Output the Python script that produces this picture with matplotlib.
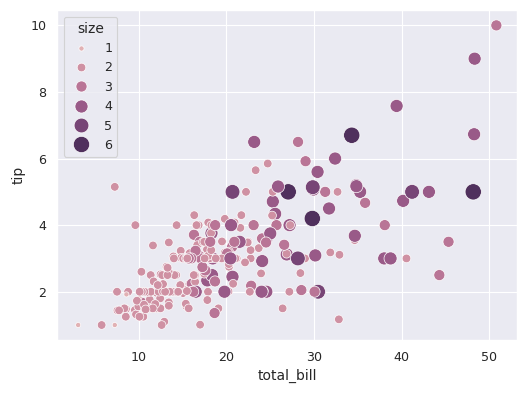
import matplotlib
matplotlib.use("Agg")
import matplotlib.pyplot as plt
import seaborn as sns
import pandas as pd

total_bill = [16.99,10.34,21.01,23.68,24.59,25.29,8.77,26.88,15.04,14.78,10.27,35.26,15.42,18.43,14.83,21.58,10.33,16.29,16.97,20.65,
17.92,20.29,15.77,39.42,19.82,17.81,13.37,12.69,21.70,19.65,9.55,18.35,15.06,20.69,17.78,24.06,16.31,16.93,18.69,31.27,
16.04,17.46,13.94,9.68,30.40,18.29,22.23,32.40,28.55,18.04,12.54,10.29,34.81,9.94,25.56,19.49,38.01,26.41,11.24,48.27,
20.29,13.81,11.02,18.29,17.59,20.08,16.45,3.07,20.23,15.01,12.02,17.07,26.86,25.28,14.73,10.51,17.92,27.20,22.76,17.29,
19.44,16.66,10.07,32.68,15.98,34.83,13.03,18.28,24.71,21.16,28.97,22.49,5.75,16.32,22.75,40.17,27.28,12.03,21.01,12.46,
11.35,15.38,44.30,22.42,20.92,15.36,20.49,25.21,18.24,14.31,14.00,7.25,38.07,23.95,25.71,17.31,29.93,10.65,12.43,24.08,
11.69,13.42,14.26,15.95,12.48,29.80,8.52,14.52,11.38,22.82,19.08,20.27,11.17,12.26,18.26,8.51,10.33,14.15,16.00,13.16,
17.47,34.30,41.19,27.05,16.43,8.35,18.64,11.87,9.78,7.51,14.07,13.13,17.26,24.55,19.77,29.85,48.17,25.00,13.39,16.49,
21.50,12.66,16.21,13.81,17.51,24.52,20.76,31.71,10.59,10.63,50.81,15.81,7.25,31.85,16.82,32.90,17.89,14.48,9.60,34.63,
34.65,23.33,45.35,23.17,40.55,20.69,20.90,30.46,18.15,23.10,15.69,19.81,28.44,15.48,16.58,7.56,10.34,43.11,13.00,13.51,
18.71,12.74,13.00,16.40,20.53,16.47,26.59,38.73,24.27,12.76,30.06,25.89,48.33,13.27,28.17,12.90,28.15,11.59,7.74,30.14,
12.16,13.42,8.58,15.98,13.42,16.27,10.09,20.45,13.28,22.12,24.01,15.69,11.61,10.77,15.53,10.07,12.60,32.83,35.83,29.03,
27.18,22.67,17.82,18.78]

tip = [1.01,1.66,3.50,3.31,3.61,4.71,2.00,3.12,1.96,3.23,1.71,5.00,1.57,3.00,3.02,3.92,1.67,3.71,3.50,3.35,
4.08,2.75,2.23,7.58,3.18,2.34,2.00,2.00,4.30,3.00,1.45,2.50,3.00,2.45,3.27,3.60,2.00,3.07,2.31,5.00,
2.24,2.54,3.06,1.32,5.60,3.00,5.00,6.00,2.05,3.00,2.50,2.60,5.20,1.56,4.34,3.51,3.00,1.50,1.76,6.73,
3.21,2.00,1.98,3.76,2.64,3.15,2.47,1.00,2.01,2.09,1.97,3.00,3.14,5.00,2.20,1.25,3.08,4.00,3.00,2.71,
3.00,3.40,1.83,5.00,2.03,5.17,2.00,4.00,5.85,3.00,3.00,3.50,1.00,4.30,3.25,4.73,4.00,1.50,3.00,1.50,
2.50,3.00,2.50,3.48,4.08,1.64,4.06,4.29,3.76,4.00,3.00,1.00,4.00,2.55,4.00,3.50,5.07,1.50,1.80,2.92,
2.31,1.68,2.50,2.00,2.52,4.20,1.48,2.00,2.00,2.18,1.50,2.83,1.50,2.00,3.25,1.25,2.00,2.00,2.00,2.75,
3.50,6.70,5.00,5.00,2.30,1.50,1.36,1.63,1.73,2.00,2.50,2.00,2.74,2.00,2.00,5.14,5.00,3.75,2.61,2.00,
3.50,2.50,2.00,2.00,3.00,3.48,2.24,4.50,1.61,2.00,10.00,3.16,5.15,3.18,4.00,3.11,2.00,2.00,4.00,3.55,
3.68,5.65,3.50,6.50,3.00,5.00,3.50,2.00,3.50,4.00,1.50,4.19,2.56,2.02,4.00,1.44,2.00,5.00,2.00,2.00,
4.00,2.01,2.00,2.50,4.00,3.23,3.41,3.00,2.03,2.23,2.00,5.16,9.00,2.50,6.50,1.10,3.00,1.50,1.44,3.09,
2.20,3.48,1.92,3.00,1.58,2.50,2.00,3.00,2.72,2.88,2.00,3.00,3.39,1.47,3.00,1.25,1.00,1.17,4.67,5.92,
2.00,2.00,1.75,3.00]

size = [2,3,3,2,4,4,2,4,2,2,2,4,2,4,2,2,3,3,3,3,
2,2,2,4,2,4,2,2,2,2,2,4,2,4,2,3,3,3,3,3,
3,2,2,2,4,2,2,4,3,2,2,2,4,2,4,2,4,2,2,4,
2,2,2,4,3,3,2,1,2,2,2,3,2,2,2,2,2,4,2,2,
2,2,1,2,2,4,2,2,2,2,2,2,2,2,2,4,2,2,2,2,
2,2,3,2,2,2,2,2,2,2,2,1,3,2,3,2,4,2,2,4,
2,2,2,2,2,6,2,2,2,3,2,2,2,2,2,2,2,2,2,2,
2,6,5,6,2,2,3,2,2,2,2,2,3,4,4,5,6,4,2,4,
4,2,3,2,2,3,2,4,2,2,3,2,2,2,2,2,2,2,2,2,
4,2,3,4,2,5,3,5,3,3,2,2,2,2,2,2,2,4,2,2,
3,2,2,2,4,3,3,4,2,2,3,4,4,2,3,2,5,2,2,4,
2,2,1,3,2,2,2,4,2,2,4,3,2,2,2,2,2,2,3,3,
2,2,2,2]

df = pd.DataFrame({"total_bill": total_bill, "tip": tip, "size": size})

sns.set_theme(style="darkgrid")
fig, ax = plt.subplots(figsize=(530/83, 400/83), dpi=83)
sns.scatterplot(data=df, x="total_bill", y="tip", hue="size", size="size",
                sizes=(20, 200), hue_norm=(0, 7), legend="full", ax=ax)
fig.subplots_adjust(left=0.108, right=0.976, top=0.974, bottom=0.15)
fig.savefig("out.png", dpi=83)
